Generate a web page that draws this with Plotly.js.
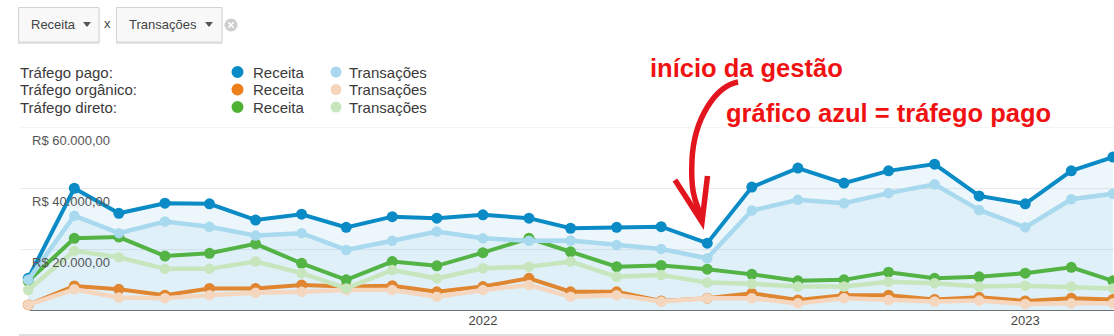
<!DOCTYPE html>
<html>
<head>
<meta charset="utf-8">
<script src="https://cdn.plot.ly/plotly-3.0.1.min.js"></script>
<style>
  html, body { margin: 0; padding: 0; background: #ffffff; }
  #chart { width: 1114px; height: 336px; }
</style>
</head>
<body>
<div id="chart"></div>
<script>
// ---------- data ----------
const months = [
  '2021-03-01','2021-04-01','2021-05-01','2021-06-01','2021-07-01','2021-08-01',
  '2021-09-01','2021-10-01','2021-11-01','2021-12-01','2022-01-01','2022-02-01',
  '2022-03-01','2022-04-01','2022-05-01','2022-06-01','2022-07-01','2022-08-01',
  '2022-09-01','2022-10-01','2022-11-01','2022-12-01','2023-01-01','2023-02-01',
  '2023-03-01'
];
// Receita (R$)
const pagoReceita     = [10600, 40100, 31900, 35200, 35000, 29700, 31600, 27300, 30800, 30300, 31400, 30300, 27000, 27300, 27500, 22100, 40500, 46700, 41800, 45800, 48000, 37600, 35000, 45800, 50300];
const organicoReceita = [1900, 8100, 7000, 5100, 7300, 7300, 8400, 7900, 8200, 6200, 7900, 10600, 6200, 6200, 3200, 4100, 5700, 3500, 5100, 5100, 3700, 4400, 3200, 4100, 3700];
const diretoReceita   = [9700, 23700, 24100, 17900, 18800, 21900, 15500, 10100, 16100, 14700, 19000, 23700, 19300, 14400, 14800, 13600, 11900, 9800, 10100, 12600, 10600, 11100, 12300, 14200, 9800];
// Transações (count, secondary scale)
const pagoTransacoes     = [101, 311, 254, 292, 275, 246, 254, 199, 229, 259, 237, 229, 230, 215, 202, 172, 328, 363, 352, 385, 414, 330, 273, 365, 383];
const organicoTransacoes = [19, 70, 43, 41, 51, 59, 62, 68, 68, 46, 68, 84, 46, 51, 30, 41, 41, 24, 41, 35, 30, 33, 22, 24, 24];
const diretoTransacoes   = [68, 196, 175, 137, 137, 161, 123, 73, 133, 106, 139, 144, 161, 111, 117, 92, 88, 79, 79, 95, 90, 79, 82, 79, 73];

const yTickVals   = [20000, 40000, 60000];
const yTickLabels = ['R$ 20.000,00', 'R$ 40.000,00', 'R$ 60.000,00'];
const xTickVals   = ['2022-01-01', '2023-01-01'];
const xTickLabels = ['2022', '2023'];

const rowLabels   = ['Tráfego pago:', 'Tráfego orgânico:', 'Tráfego direto:'];
const metricA = 'Receita';
const metricB = 'Transações';

// ---------- styling ----------
const W = 1114, H = 336;
const FONT = 'Liberation Sans, Arial, sans-serif';
const C = {
  blue: '#0a8bc6', blueL: '#a8d9ef',
  orange: '#ee7f1b', orangeL: '#f5d6bf',
  green: '#4fb232', greenL: '#c8e6bd'
};
const px = x => x / W;
const py = y => 1 - y / H;
function pth(segs) {
  return segs.map(s => s[0] + s.slice(1).map(p => px(p[0]).toFixed(5) + ',' + py(p[1]).toFixed(5)).join(' ')).join(' ');
}

function line(x, y, color, width, size, axis, fill, fillcolor) {
  const t = {
    x: x, y: y, type: 'scatter', mode: 'lines+markers',
    line: { color: color, width: width },
    marker: { color: color, size: size },
    yaxis: axis, hoverinfo: 'skip', showlegend: false
  };
  if (fill) { t.fill = 'tozeroy'; t.fillcolor = fillcolor; }
  return t;
}

const traces = [
  line(months, pagoTransacoes, C.blueL, 4.5, 10.5, 'y2', true, 'rgba(120,190,225,0.11)'),
  line(months, organicoTransacoes, C.orangeL, 4.5, 10.5, 'y2'),
  line(months, diretoTransacoes, C.greenL, 4.5, 10.5, 'y2'),
  line(months, pagoReceita, C.blue, 4, 11, 'y', true, 'rgba(120,190,225,0.14)'),
  line(months, organicoReceita, C.orange, 4, 11, 'y'),
  line(months, diretoReceita, C.green, 4, 11, 'y')
];

const shapes = [];
const annotations = [];

// grid lines
yTickVals.forEach((v, i) => {
  shapes.push({ type: 'line', xref: 'paper', yref: 'y', x0: px(20), x1: 1, y0: v, y1: v,
    line: { color: '#e9e9e9', width: 1 }, layer: 'below' });
  annotations.push({ xref: 'paper', yref: 'y', x: px(30), y: v, xanchor: 'left', yanchor: 'top',
    yshift: -3, showarrow: false, text: yTickLabels[i], font: { family: FONT, size: 13, color: '#555' } });
});
// baseline and bottom line
shapes.push({ type: 'line', xref: 'paper', yref: 'y', x0: px(30), x1: 1, y0: 0, y1: 0,
  line: { color: '#444', width: 1.2 } });
shapes.push({ type: 'line', xref: 'paper', yref: 'paper', x0: px(19), x1: 1, y0: py(335), y1: py(335),
  line: { color: '#d6d6d6', width: 1.5 } });

// dropdown boxes
function dropdown(x0, x1, label, triX) {
  shapes.push({ type: 'rect', xref: 'paper', yref: 'paper', x0: px(x0), x1: px(x1), y0: py(43.5), y1: py(8.5),
    line: { color: '#e2e2e2', width: 1 }, fillcolor: '#ececec' });
  shapes.push({ type: 'rect', xref: 'paper', yref: 'paper', x0: px(x0), x1: px(x1), y0: py(42), y1: py(7.5),
    line: { color: '#d2d2d2', width: 1 }, fillcolor: '#f8f8f8' });
  annotations.push({ xref: 'paper', yref: 'paper', x: px(x0 + 10), y: py(25), xanchor: 'left', yanchor: 'middle',
    showarrow: false, text: label, font: { family: FONT, size: 13, color: '#444' } });
  shapes.push({ type: 'path', xref: 'paper', yref: 'paper',
    path: pth([['M', [triX - 4, 22]], ['L', [triX + 4, 22]], ['L', [triX, 27]], ['Z']]),
    fillcolor: '#555', line: { width: 0 } });
}
dropdown(18.5, 99, metricA, 87);
dropdown(116.5, 222, metricB, 209);
annotations.push({ xref: 'paper', yref: 'paper', x: px(108), y: py(24), xanchor: 'center', yanchor: 'middle',
  showarrow: false, text: 'x', font: { family: FONT, size: 13, color: '#444' } });
shapes.push({ type: 'circle', xref: 'paper', yref: 'paper', x0: px(224.5), x1: px(237.5), y0: py(31.5), y1: py(18.5),
  fillcolor: '#cdcdcd', line: { width: 0 } });
shapes.push({ type: 'path', xref: 'paper', yref: 'paper',
  path: pth([['M', [228.3, 22.3]], ['L', [233.7, 27.7]], ['M', [233.7, 22.3]], ['L', [228.3, 27.7]]]),
  line: { color: '#ffffff', width: 1.6 } });

// legend block
const rowY = [72, 89.5, 107];
const dotA = [C.blue, C.orange, C.green];
const dotB = [C.blueL, C.orangeL, C.greenL];
rowLabels.forEach((lab, i) => {
  const y = rowY[i];
  annotations.push({ xref: 'paper', yref: 'paper', x: px(18), y: py(y), xanchor: 'left', yanchor: 'middle',
    showarrow: false, text: lab, font: { family: FONT, size: 15, color: '#3a3a3a' } });
  shapes.push({ type: 'circle', xref: 'paper', yref: 'paper', x0: px(231.5), x1: px(243.5), y0: py(y + 6), y1: py(y - 6),
    fillcolor: dotA[i], line: { width: 0 } });
  annotations.push({ xref: 'paper', yref: 'paper', x: px(251), y: py(y), xanchor: 'left', yanchor: 'middle',
    showarrow: false, text: metricA, font: { family: FONT, size: 15, color: '#3a3a3a' } });
  shapes.push({ type: 'circle', xref: 'paper', yref: 'paper', x0: px(330.5), x1: px(341.5), y0: py(y + 5.5), y1: py(y - 5.5),
    fillcolor: dotB[i], line: { width: 0 } });
  annotations.push({ xref: 'paper', yref: 'paper', x: px(347), y: py(y), xanchor: 'left', yanchor: 'middle',
    showarrow: false, text: metricB, font: { family: FONT, size: 15, color: '#3a3a3a' } });
});

// red callouts
const RED = '#f01212';
annotations.push({ xref: 'paper', yref: 'paper', x: px(648), y: py(67.5), xanchor: 'left', yanchor: 'middle',
  showarrow: false, text: '<b>início da gestão</b>', font: { family: FONT, size: 25.5, color: RED } });
annotations.push({ xref: 'paper', yref: 'paper', x: px(724), y: py(113), xanchor: 'left', yanchor: 'middle',
  showarrow: false, text: '<b>gráfico azul = tráfego pago</b>', font: { family: FONT, size: 25.5, color: RED } });
// curved hand-drawn arrow
const ARED = '#e2141d';
shapes.push({ type: 'path', xref: 'paper', yref: 'paper',
  path: pth([['M', [738, 82]], ['C', [716, 86], [694, 118], [692, 160]], ['S', [699, 205], [702, 220]]]),
  line: { color: ARED, width: 5.5 } });
shapes.push({ type: 'path', xref: 'paper', yref: 'paper',
  path: pth([['M', [675, 180]], ['L', [702, 222]], ['L', [707.5, 176]]]),
  line: { color: ARED, width: 5.5 } });

const layout = {
  width: W, height: H,
  margin: { l: 0, r: 0, t: 0, b: 0, pad: 0 },
  paper_bgcolor: '#ffffff', plot_bgcolor: 'rgba(0,0,0,0)',
  showlegend: false,
  font: { family: FONT },
  xaxis: {
    type: 'date', domain: [0, 1],
    range: ['2021-02-10', '2023-03-01 18:00'],
    tickvals: xTickVals, ticktext: xTickLabels,
    ticks: '', showgrid: false, zeroline: false, showline: false,
    tickfont: { family: FONT, size: 13, color: '#444' }, fixedrange: true
  },
  yaxis: {
    range: [0, 60000], domain: [25.3 / H, 208.5 / H],
    showgrid: false, zeroline: false, showticklabels: false, ticks: '', fixedrange: true
  },
  yaxis2: {
    range: [0, 600], overlaying: 'y', side: 'right', visible: false,
    showgrid: false, zeroline: false, showticklabels: false, fixedrange: true
  },
  shapes: shapes,
  annotations: annotations
};

Plotly.newPlot('chart', traces, layout, { displayModeBar: false, staticPlot: true });
</script>
</body>
</html>
